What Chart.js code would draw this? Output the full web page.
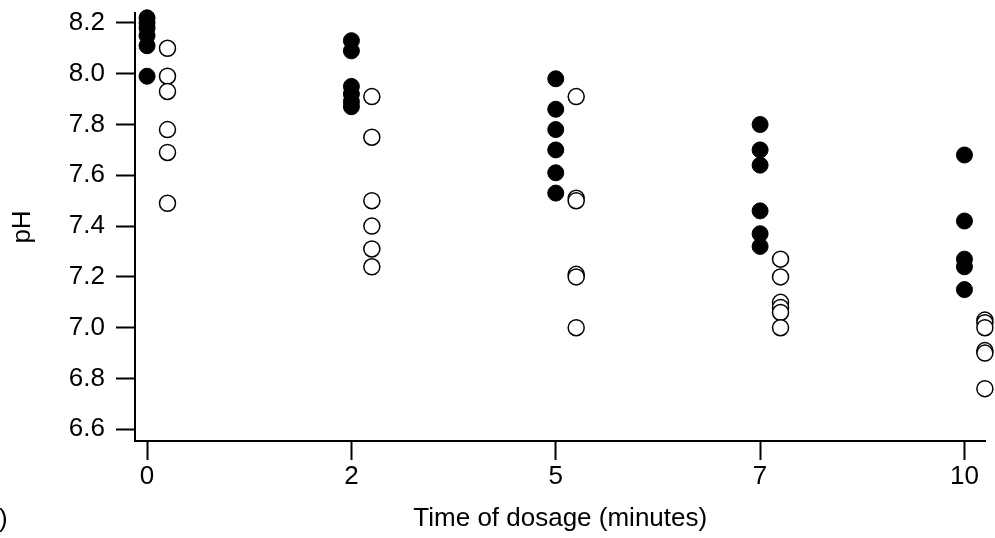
<!DOCTYPE html>
<html>
<head>
<meta charset="utf-8">
<script src="https://cdn.jsdelivr.net/npm/chart.js@4/dist/chart.umd.min.js"></script>
<style>
  html, body { margin: 0; padding: 0; background: #fff; }
  #box { width: 995px; height: 538px; }
</style>
</head>
<body>
<div id="box"><canvas id="grafica" width="995" height="538"></canvas></div>
<script>
// tiempos de dosificacion (categorias del eje x)
const tiempos = ['0', '2', '5', '7', '10'];
const yTicks = [6.6, 6.8, 7.0, 7.2, 7.4, 7.6, 7.8, 8.0, 8.2];

// pH, puntos rellenos, por tiempo
const llenos0 = [8.22, 8.20, 8.18, 8.15, 8.11, 7.99];
const llenos2 = [8.13, 8.09, 7.95, 7.92, 7.89, 7.87];
const llenos5 = [7.98, 7.86, 7.78, 7.70, 7.61, 7.53];
const llenos7 = [7.80, 7.70, 7.64, 7.46, 7.37, 7.32];
const llenos10 = [7.68, 7.42, 7.27, 7.24, 7.15];

// pH, puntos vacios, por tiempo
const vacios0 = [8.10, 7.99, 7.93, 7.78, 7.69, 7.49];
const vacios2 = [7.91, 7.75, 7.50, 7.40, 7.31, 7.24];
const vacios5 = [7.91, 7.51, 7.50, 7.21, 7.20, 7.00];
const vacios7 = [7.27, 7.20, 7.10, 7.08, 7.06, 7.00];
const vacios10 = [7.03, 7.02, 7.00, 6.91, 6.90, 6.76];

const llenos = [llenos0, llenos2, llenos5, llenos7, llenos10];
const vacios = [vacios0, vacios2, vacios5, vacios7, vacios10];

function puntos(grupos, desplaz) {
  const res = [];
  grupos.forEach((vals, i) => vals.forEach(v => res.push({ x: i + desplaz, y: v })));
  return res;
}

const fuente = { family: '"Liberation Sans", Arial, sans-serif', size: 26 };

const textoSuelto = {
  id: 'textoSuelto',
  afterDraw(chart) {
    const c = chart.ctx;
    c.save();
    c.fillStyle = '#000';
    c.font = '26px "Liberation Sans", Arial, sans-serif';
    c.textBaseline = 'alphabetic';
    c.fillText(')', -1, 527);
    c.restore();
  }
};

const ctx = document.getElementById('grafica').getContext('2d');
new Chart(ctx, {
  type: 'scatter',
  data: {
    datasets: [{
      label: 'llenos',
      data: puntos(llenos, 0),
      pointRadius: 8,
      pointHoverRadius: 8,
      backgroundColor: '#000',
      borderColor: '#000',
      borderWidth: 1
    }, {
      label: 'vacios',
      data: puntos(vacios, 0.1),
      pointRadius: 8,
      pointHoverRadius: 8,
      backgroundColor: '#fff',
      borderColor: '#000',
      borderWidth: 1.5
    }]
  },
  options: {
    responsive: false,
    devicePixelRatio: 1,
    animation: false,
    clip: false,
    layout: { padding: { top: 13, right: 9, left: 0, bottom: 0 } },
    plugins: { legend: { display: false }, tooltip: { enabled: false } },
    scales: {
      x: {
        type: 'linear',
        min: -0.059,
        max: 4.103,
        afterBuildTicks(s) { s.ticks = tiempos.map((t, i) => ({ value: i })); },
        afterFit(s) { s.height = 97; s.paddingLeft = 0; s.paddingRight = 0; },
        border: { color: '#000', width: 2 },
        grid: { drawOnChartArea: false, tickLength: 19, tickWidth: 2, tickColor: '#000' },
        ticks: {
          color: '#000', font: fuente, padding: 1, maxRotation: 0,
          callback: v => tiempos[v]
        },
        title: {
          display: true, text: 'Time of dosage (minutes)', color: '#000',
          font: fuente, padding: { top: 0, bottom: 4 }
        }
      },
      y: {
        min: 6.554,
        max: 8.239,
        afterBuildTicks(s) { s.ticks = yTicks.map(v => ({ value: v })); },
        afterFit(s) { s.width = 135; s.paddingTop = 0; s.paddingBottom = 0; },
        border: { color: '#000', width: 2 },
        grid: { drawOnChartArea: false, tickLength: 19, tickWidth: 2, tickColor: '#000' },
        ticks: {
          color: '#000', font: fuente, padding: 11,
          callback: v => Number(v).toFixed(1)
        },
        title: {
          display: true, text: 'pH', color: '#000',
          font: fuente, padding: { top: 7, bottom: 0 }
        }
      }
    }
  },
  plugins: [textoSuelto]
});
</script>
</body>
</html>
